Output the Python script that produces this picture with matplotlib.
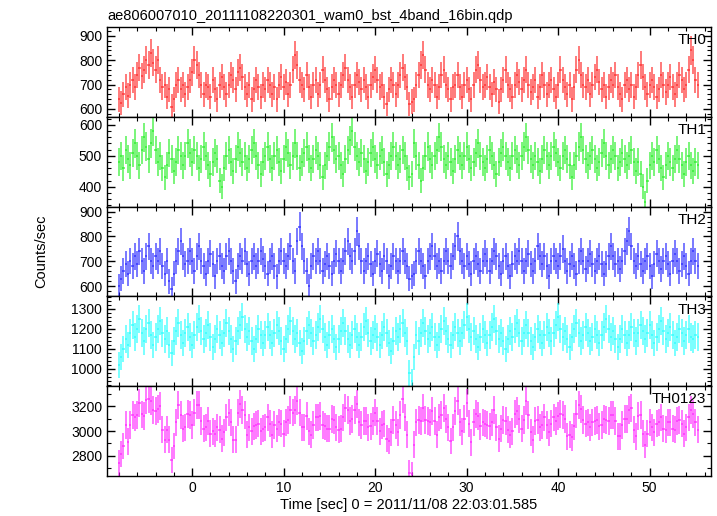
import matplotlib
matplotlib.use('Agg')
import matplotlib.pyplot as plt
import numpy as np
from matplotlib.ticker import MultipleLocator

plt.rcParams['font.family'] = ['Liberation Sans', 'DejaVu Sans']

TITLE = 'ae806007010_20111108220301_wam0_bst_4band_16bin.qdp'
XLABEL = 'Time [sec] 0 = 2011/11/08 22:03:01.585'
YLABEL = 'Counts/sec'
BIN = 0.25      # seconds per bin
T0 = -8.0       # first bin centre

# Light curves (counts/sec), 16 bins (4 s) per row
th0 = [
    640, 625, 660, 690, 655, 700, 720, 690, 740, 770, 735, 760, 800, 780, 830, 790,
    760, 800, 720, 690, 700, 650, 680, 610, 640, 700, 720, 680, 700, 660, 690, 720,
    750, 800, 780, 740, 700, 660, 700, 690, 650, 720, 680, 640, 700, 730, 690, 660,
    700, 740, 720, 680, 750, 770, 730, 690, 660, 700, 640, 680, 720, 690, 650, 700,
    680, 720, 700, 660, 690, 640, 700, 730, 690, 710, 660, 700, 760, 820, 780, 720,
    700, 680, 740, 690, 650, 700, 720, 660, 700, 760, 720, 680, 640, 690, 720, 700,
    660, 700, 740, 770, 720, 690, 650, 700, 740, 710, 680, 720, 690, 650, 700, 730,
    760, 720, 690, 700, 650, 620, 680, 720, 700, 660, 700, 740, 770, 730, 690, 620,
    630, 640, 700, 740, 780, 820, 760, 700, 680, 720, 700, 650, 690, 740, 760, 700,
    680, 640, 690, 700, 740, 690, 650, 700, 720, 680, 640, 700, 760, 780, 720, 690,
    700, 730, 690, 660, 710, 680, 630, 680, 720, 760, 700, 680, 650, 700, 740, 710,
    680, 720, 760, 700, 670, 690, 720, 650, 690, 740, 700, 660, 700, 720, 680, 650,
    700, 760, 720, 690, 660, 700, 640, 690, 760, 800, 740, 700, 690, 720, 660, 700,
    730, 760, 710, 680, 700, 650, 690, 720, 700, 740, 690, 660, 640, 700, 720, 680,
    700, 650, 690, 740, 780, 730, 690, 660, 700, 720, 690, 650, 680, 740, 700, 670,
    700, 730, 690, 660, 700, 740, 720, 680, 700, 760, 840, 800, 720, 700,
]
th1 = [
    480, 500, 460, 520, 490, 470, 510, 540, 500, 470, 520, 560, 530, 490, 540, 580,
    520, 480, 500, 460, 430, 470, 510, 490, 450, 480, 520, 500, 470, 500, 540, 510,
    480, 520, 500, 460, 490, 530, 500, 470, 440, 480, 510, 490, 420, 400, 460, 500,
    520, 480, 450, 490, 530, 510, 480, 500, 460, 490, 520, 540, 500, 470, 440, 480,
    500, 530, 490, 460, 500, 520, 480, 450, 490, 530, 510, 470, 500, 540, 500, 460,
    480, 510, 530, 490, 460, 490, 520, 500, 470, 430, 470, 500, 530, 560, 520, 490,
    500, 470, 440, 490, 520, 550, 580, 530, 500, 480, 510, 490, 450, 480, 510, 530,
    490, 470, 500, 520, 480, 440, 470, 500, 530, 500, 470, 490, 520, 500, 460, 430,
    440, 540, 500, 470, 420, 460, 500, 530, 490, 470, 500, 520, 560, 530, 490, 470,
    500, 480, 450, 490, 520, 500, 470, 500, 530, 490, 460, 480, 510, 540, 500, 480,
    460, 490, 520, 500, 470, 440, 480, 510, 530, 500, 480, 460, 500, 520, 490, 470,
    500, 530, 560, 520, 490, 470, 500, 480, 450, 490, 520, 500, 470, 500, 530, 510,
    480, 460, 500, 520, 490, 470, 430, 470, 500, 530, 560, 520, 490, 470, 500, 520,
    490, 460, 480, 510, 540, 500, 470, 490, 520, 500, 460, 480, 510, 490, 470, 500,
    520, 480, 450, 480, 440, 400, 350, 420, 470, 500, 480, 520, 490, 460, 430, 470,
    500, 480, 460, 490, 520, 490, 470, 440, 480, 500, 470, 450, 480, 470,
]
th2 = [
    600, 630, 660, 690, 650, 700, 680, 720, 690, 740, 700, 660, 720, 760, 700, 680,
    720, 700, 740, 680, 650, 700, 620, 590, 650, 700, 740, 780, 720, 690, 700, 740,
    700, 660, 720, 760, 700, 680, 650, 700, 730, 690, 640, 700, 720, 680, 660, 720,
    740, 700, 660, 620, 680, 720, 700, 740, 690, 650, 700, 720, 680, 700, 740, 710,
    680, 650, 700, 720, 680, 640, 700, 740, 700, 680, 720, 760, 700, 660, 780, 840,
    760, 700, 660, 600, 680, 720, 700, 740, 700, 660, 690, 720, 680, 650, 700, 730,
    700, 660, 700, 740, 780, 720, 700, 740, 820, 760, 700, 660, 700, 720, 690, 650,
    700, 730, 690, 660, 720, 700, 640, 680, 720, 700, 660, 700, 740, 700, 680, 630,
    640, 650, 700, 740, 700, 680, 640, 700, 720, 760, 720, 680, 700, 660, 700, 740,
    700, 680, 720, 760, 800, 740, 700, 680, 720, 690, 650, 700, 720, 690, 660, 700,
    730, 700, 660, 700, 740, 720, 680, 650, 700, 720, 680, 640, 690, 720, 700, 740,
    700, 660, 700, 730, 690, 660, 700, 760, 720, 690, 720, 680, 640, 700, 720, 700,
    680, 720, 750, 700, 660, 690, 720, 680, 650, 700, 740, 700, 670, 700, 730, 690,
    660, 700, 720, 690, 650, 690, 720, 760, 720, 690, 700, 670, 700, 740, 780, 820,
    760, 700, 680, 720, 690, 660, 700, 720, 680, 640, 690, 730, 700, 670, 700, 720,
    690, 650, 700, 730, 700, 660, 690, 720, 680, 650, 700, 740, 700, 680,
]
th3 = [
    1020, 1060, 1100, 1150, 1120, 1180, 1220, 1160, 1200, 1250, 1180, 1140, 1200, 1230, 1170, 1120,
    1160, 1200, 1240, 1180, 1150, 1190, 1120, 1080, 1140, 1190, 1230, 1170, 1130, 1180, 1210, 1160,
    1120, 1170, 1210, 1250, 1190, 1150, 1180, 1220, 1160, 1110, 1150, 1200, 1170, 1130, 1180, 1230,
    1190, 1150, 1100, 1140, 1190, 1220, 1260, 1200, 1160, 1190, 1140, 1100, 1150, 1200, 1170, 1130,
    1170, 1210, 1170, 1130, 1180, 1220, 1190, 1140, 1100, 1150, 1200, 1240, 1190, 1150, 1180, 1130,
    1090, 1140, 1190, 1220, 1180, 1140, 1170, 1210, 1250, 1200, 1160, 1120, 1170, 1200, 1150, 1110,
    1150, 1190, 1230, 1190, 1150, 1120, 1170, 1200, 1160, 1120, 1160, 1210, 1240, 1180, 1140, 1170,
    1200, 1160, 1120, 1170, 1210, 1180, 1130, 1090, 1140, 1190, 1160, 1200, 1230, 1180, 1140, 980,
    940, 1060, 1170, 1140, 1180, 1230, 1190, 1150, 1180, 1210, 1160, 1120, 1160, 1200, 1240, 1190,
    1150, 1120, 1170, 1210, 1180, 1140, 1180, 1220, 1260, 1200, 1160, 1190, 1150, 1110, 1160, 1200,
    1170, 1130, 1170, 1210, 1250, 1190, 1150, 1180, 1140, 1100, 1150, 1190, 1160, 1200, 1230, 1180,
    1140, 1180, 1220, 1180, 1140, 1110, 1160, 1200, 1170, 1130, 1170, 1210, 1180, 1140, 1180, 1220,
    1260, 1200, 1160, 1190, 1150, 1110, 1160, 1200, 1230, 1180, 1140, 1170, 1210, 1180, 1140, 1160,
    1200, 1170, 1130, 1170, 1210, 1250, 1200, 1160, 1190, 1150, 1110, 1150, 1200, 1170, 1130, 1170,
    1210, 1180, 1140, 1180, 1220, 1190, 1150, 1180, 1220, 1170, 1130, 1160, 1200, 1240, 1190, 1150,
    1180, 1210, 1170, 1130, 1160, 1200, 1180, 1140, 1170, 1200, 1160, 1150, 1170, 1160,
]

bands = ['TH0', 'TH1', 'TH2', 'TH3', 'TH0123']
colors = ['#ff2020', '#20ee20', '#2020ff', '#20ffff', '#ff20ff']
ylims = [(568, 936), (336, 626), (559, 920), (914, 1363), (2637, 3363)]
ymajor = [100, 100, 100, 100, 200]
yminor = [20, 20, 20, 20, 100]

rates = [np.array(th0), np.array(th1), np.array(th2), np.array(th3)]
rates.append(rates[0] + rates[1] + rates[2] + rates[3])   # TH0123 is the band sum
t = T0 + BIN * np.arange(len(th0))

fig = plt.figure(figsize=(7.17, 5.16), dpi=100)
left, right, top, bottom = 107 / 717, 711 / 717, 1 - 27 / 516, 1 - 476 / 516
h = (top - bottom) / 5

for i, (name, col) in enumerate(zip(bands, colors)):
    ax = fig.add_axes([left, top - (i + 1) * h, right - left, h])
    r = rates[i]
    err = np.sqrt(r / BIN)   # Poisson errors
    ax.errorbar(t, r, xerr=BIN / 2, yerr=err, fmt='none', ecolor=col,
                elinewidth=1.4, alpha=0.6, capsize=0)
    ax.set_xlim(-9.3, 56.7)
    ax.set_ylim(*ylims[i])
    ax.xaxis.set_major_locator(MultipleLocator(10))
    ax.xaxis.set_minor_locator(MultipleLocator(2))
    ax.yaxis.set_major_locator(MultipleLocator(ymajor[i]))
    ax.yaxis.set_minor_locator(MultipleLocator(yminor[i]))
    ax.tick_params(which='both', direction='in', top=True, right=True, labelsize=10)
    ax.tick_params(which='major', length=6, width=1)
    ax.tick_params(which='minor', length=3, width=0.8)
    for s in ax.spines.values():
        s.set_linewidth(1)
    ax.text(0.992, 0.93, name, transform=ax.transAxes, ha='right', va='top', fontsize=11)
    if i < 4:
        ax.tick_params(labelbottom=False)
    else:
        ax.set_xlabel(XLABEL, fontsize=10.5, labelpad=2)
    if i == 0:
        ax.set_title(TITLE, loc='left', fontsize=10.5, pad=5)

fig.text(0.057, (top + bottom) / 2, YLABEL, rotation=90, ha='center', va='center', fontsize=10.5)

fig.savefig('out.png', dpi=100)
